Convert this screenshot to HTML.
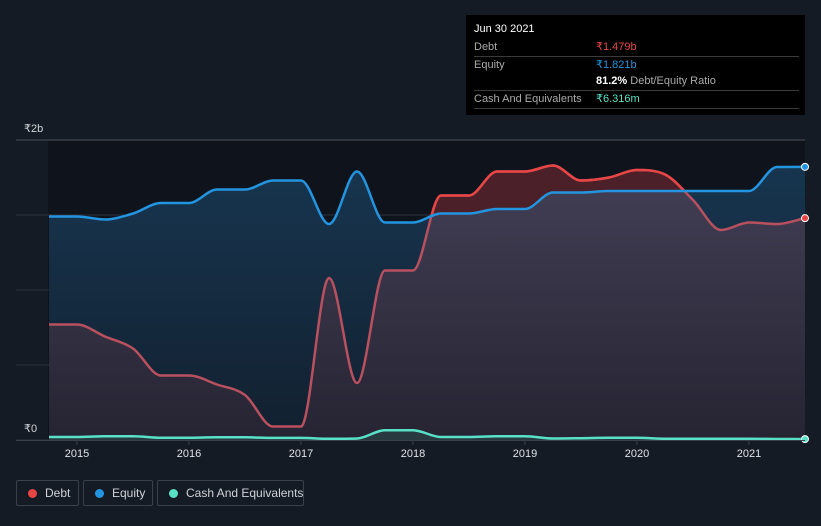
<!DOCTYPE html>
<html><head><meta charset="utf-8"><style>
body{margin:0;width:821px;height:526px;background:#151b25;font-family:"Liberation Sans",sans-serif;overflow:hidden;position:relative}
svg{position:absolute;left:0;top:0}
.tip{position:absolute;left:466px;top:15px;width:339px;height:100px;background:#000;color:#fff;font-size:11px}
.row{position:absolute;left:8px;right:6px;height:17px;border-bottom:1px solid #3a3a3a;line-height:17px;white-space:nowrap}
.lg{position:absolute;top:480px;height:26px;border:1px solid #3a404a;border-radius:2px;color:#cfd3d8;font-size:12px;line-height:25px;box-sizing:border-box;white-space:nowrap}
.lg i{position:absolute;left:11px;top:8px;width:9px;height:9px;border-radius:50%}
.lg span{position:absolute;left:28px}
</style></head><body>
<svg width="821" height="526">
<defs>
<linearGradient id="dg" x1="0" y1="0" x2="0" y2="1"><stop offset="0" stop-color="#433f56"/><stop offset="1" stop-color="#262432"/></linearGradient>
<linearGradient id="eg" x1="0" y1="0" x2="0" y2="1"><stop offset="0" stop-color="#17354f"/><stop offset="1" stop-color="#12202f"/></linearGradient>
<clipPath id="aboveEq"><path id="aeq"/></clipPath>
</defs>
<rect id="plotbg" x="48" y="140" width="757" height="300" fill="#0f131b"/>
<g id="grid"></g>
<g id="areas"></g>
<g id="lines"></g>
<g id="xaxis"></g>
<text x="24" y="132" fill="#d0d4da" font-size="11">₹2b</text>
<text x="24" y="432" fill="#d0d4da" font-size="11">₹0</text>
</svg>
<div class="tip">
<div style="position:absolute;left:8px;top:8px;font-size:11px">Jun 30 2021</div>
<div class="row" style="top:24px;color:#aaa">Debt<span style="position:absolute;left:122px;color:#e84545">₹1.479b</span></div>
<div class="row" style="top:42px;color:#aaa;border:none">Equity<span style="position:absolute;left:122px;color:#2394df">₹1.821b</span></div>
<div class="row" style="top:58px;color:#aaa"><span style="position:absolute;left:122px"><b style="color:#fff">81.2%</b> Debt/Equity Ratio</span></div>
<div class="row" style="top:76px;color:#aaa">Cash And Equivalents<span style="position:absolute;left:122px;color:#58e1c6">₹6.316m</span></div>
</div>
<div class="lg" style="left:16px;width:63px"><i style="background:#e84545"></i><span>Debt</span></div>
<div class="lg" style="left:83px;width:70px"><i style="background:#2394df"></i><span>Equity</span></div>
<div class="lg" style="left:157px;width:147px"><i style="background:#58e1c6"></i><span>Cash And Equivalents</span></div>
<script>
const dates=[2014.75,2015,2015.25,2015.5,2015.75,2016,2016.25,2016.5,2016.75,2017,2017.25,2017.5,2017.75,2018,2018.25,2018.5,2018.75,2019,2019.25,2019.5,2019.75,2020,2020.25,2020.5,2020.75,2021,2021.25,2021.5];
const equity=[1.49,1.49,1.47,1.51,1.58,1.58,1.67,1.67,1.73,1.73,1.44,1.79,1.45,1.45,1.51,1.51,1.54,1.54,1.65,1.65,1.66,1.66,1.66,1.66,1.66,1.66,1.82,1.821];
const debt=[0.77,0.77,0.69,0.61,0.43,0.43,0.37,0.30,0.09,0.09,1.08,0.38,1.13,1.13,1.63,1.63,1.79,1.79,1.83,1.73,1.75,1.80,1.77,1.60,1.40,1.45,1.44,1.479];
const cash=[0.02,0.02,0.025,0.025,0.015,0.015,0.018,0.018,0.014,0.014,0.008,0.01,0.065,0.065,0.02,0.02,0.025,0.025,0.01,0.012,0.015,0.015,0.008,0.008,0.008,0.008,0.007,0.006];
const xTicks=[2015,2016,2017,2018,2019,2020,2021];
const yTicks=[0,0.5,1,1.5,2];
const X=d=>77+(d-2015)*112, Y=v=>440-v*150;
const NS='http://www.w3.org/2000/svg';
function mk(tag,attrs,parent){const e=document.createElementNS(NS,tag);for(const k in attrs)e.setAttribute(k,attrs[k]);parent.appendChild(e);return e;}
function curve(vals){const p=vals.map((v,i)=>[X(dates[i]),Y(v)]);const n=p.length;const m=[];const s=[];
for(let i=0;i<n-1;i++)s.push((p[i+1][1]-p[i][1])/(p[i+1][0]-p[i][0]));
for(let i=0;i<n;i++){if(i==0)m.push(s[0]);else if(i==n-1)m.push(s[n-2]);else m.push(s[i-1]*s[i]<=0?0:(s[i-1]+s[i])/2);}
for(let i=0;i<n-1;i++){if(s[i]==0){m[i]=0;m[i+1]=0;continue;}const a=m[i]/s[i],b=m[i+1]/s[i];const h=a*a+b*b;if(h>9){const t=3/Math.sqrt(h);m[i]=t*a*s[i];m[i+1]=t*b*s[i];}}
let d='M'+p[0][0]+','+p[0][1];for(let i=0;i<n-1;i++){const dx=(p[i+1][0]-p[i][0])/3;d+=` C${p[i][0]+dx},${p[i][1]+m[i]*dx} ${p[i+1][0]-dx},${p[i+1][1]-m[i+1]*dx} ${p[i+1][0]},${p[i+1][1]}`;}return d;}
const x0=X(dates[0]),x1=X(dates[dates.length-1]);
const grid=document.getElementById('grid');
yTicks.forEach(v=>{const l=mk('line',{x1:16,x2:805,y1:Y(v),y2:Y(v),stroke:v==2?'#4a4f58':'#2c323c','stroke-width':1},grid);

});
const eq=curve(equity),db=curve(debt),cs=curve(cash);
document.getElementById('aeq').setAttribute('d',eq+` L${x1},100 L${x0},100 Z`);
const A=document.getElementById('areas');
let a=mk('path',{d:eq+` L${x1},440 L${x0},440 Z`,fill:'url(#eg)'},A);


a=mk('path',{d:db+` L${x1},440 L${x0},440 Z`,fill:'url(#dg)'},A);


a=mk('path',{d:db+` L${x1},440 L${x0},440 Z`,fill:'#4b2028','clip-path':'url(#aboveEq)'},A);


a=mk('path',{d:cs+` L${x1},440 L${x0},440 Z`,fill:'#2a4a4a',opacity:0.6},A);


const L=document.getElementById('lines');
let l=mk('path',{d:db,fill:'none',stroke:'#b9505f','stroke-width':2.5},L);


l=mk('path',{d:db,fill:'none',stroke:'#e84545','stroke-width':2.5,'clip-path':'url(#aboveEq)'},L);


l=mk('path',{d:eq,fill:'none',stroke:'#2394df','stroke-width':2.5},L);


l=mk('path',{d:cs,fill:'none',stroke:'#58e1c6','stroke-width':2.5},L);


[[equity,'#2394df','equity-end-dot'],[debt,'#e84545','debt-end-dot'],[cash,'#58e1c6','cash-end-dot']].forEach(([s,c,n])=>{
const d=mk('circle',{cx:x1,cy:Y(s[s.length-1]),r:3.5,fill:c,stroke:'#fff','stroke-width':1},L);

});
const XA=document.getElementById('xaxis');
const ax=mk('line',{x1:16,x2:805,y1:440.5,y2:440.5,stroke:'#3a404a'},XA);


xTicks.forEach(t=>{mk('line',{x1:X(t),x2:X(t),y1:440,y2:445,stroke:'#3a404a'},XA);
const tx=mk('text',{x:X(t),y:457,fill:'#e0e3e7','font-size':11,'text-anchor':'middle'},XA);tx.textContent=t;

});
</script>
</body></html>
